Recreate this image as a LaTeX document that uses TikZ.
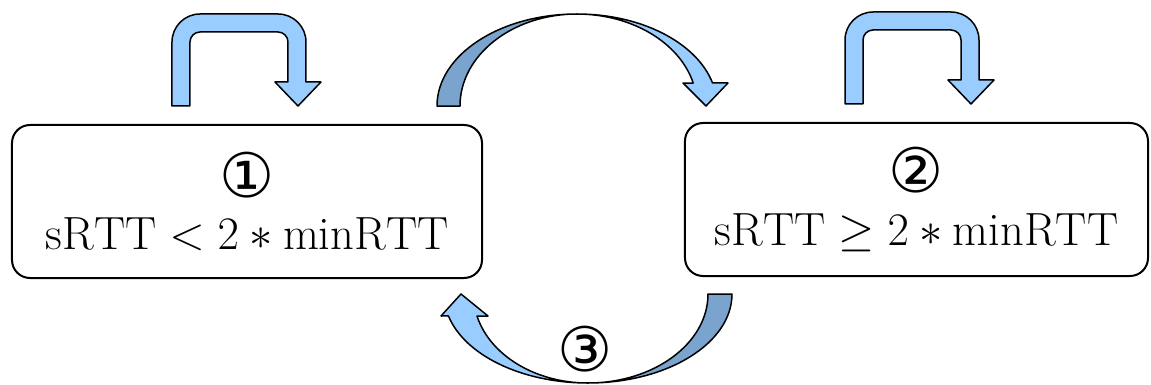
\RequirePackage{fix-cm}
\documentclass[tikz,border=0pt]{standalone}
\usepackage{fontspec}
\usepackage{xcolor}
\newfontfamily\circfont{DejaVu Sans}
\definecolor{loopblue}{RGB}{153, 204, 255}
\definecolor{shadeblue}{RGB}{122, 163, 206}
\newcommand{\stepno}[1]{\raisebox{0pt}[\height][0pt]{\circfont\fontsize{35}{35}\selectfont #1}}

\begin{document}
\begin{tikzpicture}[x=0.2mm, y=0.2mm,
    state/.style={draw, line width=0.4mm, rounded corners=3.6mm, fill=white,
        minimum width=94mm, minimum height=30.6mm, align=center,
        font=\fontsize{26.5}{30}\selectfont},
    band/.style={draw, line width=0.3mm, line join=round}]
      \useasboundingbox (0,0) rectangle (1151,384);

      % States
      \node[state] (s1) at (247,182.5) {\stepno{①}\\[0pt]
          $\mathrm{sRTT} < 2 \ast \mathrm{minRTT}$};
      \node[state, minimum width=92.6mm] (s2) at (916.5,184.5) {\stepno{②}\\[0pt]
          $\mathrm{sRTT} \geq 2 \ast \mathrm{minRTT}$};

      % Self loops on top of each state
      \foreach \s in {s1, s2} {
          \begin{scope}[shift={(\s.north west)}]
            \draw[band, fill=loopblue] (161,18) -- (161,82)
                arc[start angle=180, end angle=90, radius=28] -- (267,110)
                arc[start angle=90, end angle=0, radius=28] -- (295,42)
                -- (310,42) -- (287,18) -- (264,42) -- (277,42) -- (277,82)
                arc[start angle=0, end angle=90, radius=10] -- (189,92)
                arc[start angle=90, end angle=180, radius=10] -- (179,18) -- cycle;
          \end{scope}
        }

      % Curved arrow from state 1 to state 2
      \draw[band, fill=shadeblue] (437,278)
          arc[start angle=180, end angle=90, x radius=140, y radius=92]
          arc[start angle=90, end angle=180, x radius=117, y radius=92] -- cycle;
      \draw[band, fill=loopblue] (577,370)
          arc[start angle=90, end angle=14.5, x radius=140, y radius=92]
          -- (728,301) -- (706,278) -- (683,301) -- (693.2,301)
          arc[start angle=14.5, end angle=90, x radius=120, y radius=92] -- cycle;

      % Curved arrow back from state 2 to state 1
      \draw[band, fill=shadeblue] (732,90)
          arc[start angle=0, end angle=-90, x radius=144, y radius=89]
          arc[start angle=-90, end angle=0, x radius=120, y radius=89] -- cycle;
      \draw[band, fill=loopblue] (588,1)
          arc[start angle=270, end angle=194.3, x radius=144, y radius=89]
          -- (441,68) -- (461,90) -- (488,68) -- (477,68)
          arc[start angle=194.3, end angle=270, x radius=114.5, y radius=89] -- cycle;
      \node[inner sep=0pt, anchor=base] (t3) at (585,13) {\stepno{③}};
    \end{tikzpicture}
\end{document}
